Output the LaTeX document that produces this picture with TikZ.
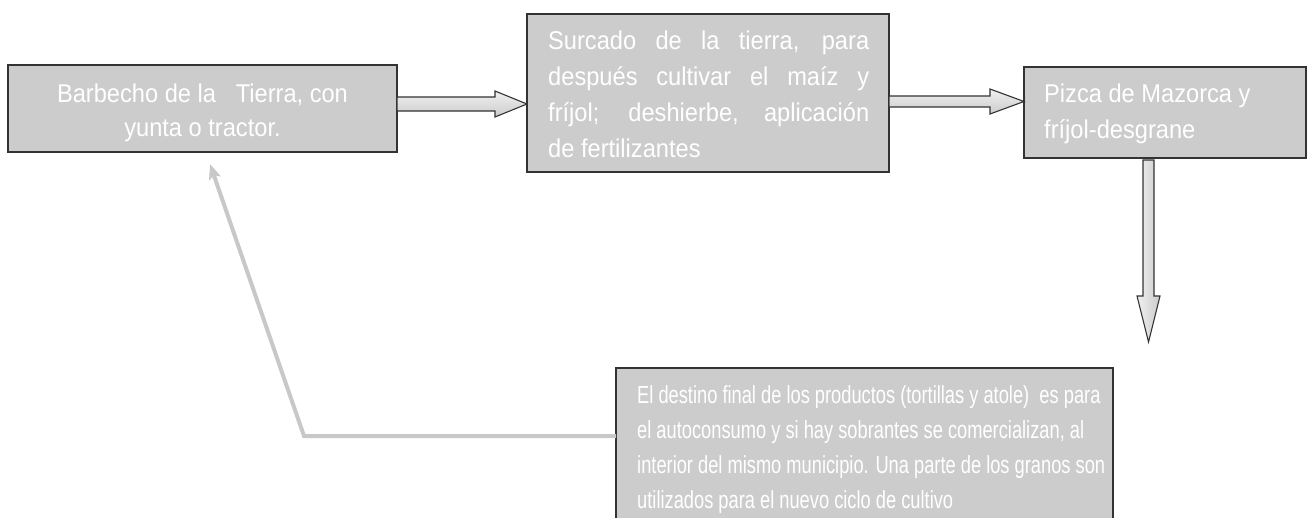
\documentclass[tikz,border=0pt]{standalone}
\usepackage{fontspec}
\setmainfont{Liberation Sans}
\newfontfamily\boxfont[FakeStretch=0.92]{Liberation Sans}
\newfontfamily\narrowfont[FakeStretch=0.74]{Liberation Sans}
\usetikzlibrary{arrows.meta}
\definecolor{boxfill}{HTML}{CCCCCC}
\definecolor{boxline}{HTML}{333333}
\definecolor{fbline}{HTML}{C8C8C8}
\begin{document}
\begin{tikzpicture}[x=1pt,y=-1pt,
  box/.style={draw=boxline, line width=1.4pt, fill=boxfill, inner sep=0pt, outer sep=0pt, anchor=north west},
  txt/.style={text=white, inner sep=0pt, font=\boxfont\fontsize{25.7}{30}\selectfont},
  ntxt/.style={text=white, inner sep=0pt, font=\narrowfont\fontsize{24.7}{30}\selectfont},
  harrow/.style={draw=boxline, line width=1.1pt, top color=black!6, bottom color=black!20, line join=miter},
  varrow/.style={draw=boxline, line width=1.1pt, left color=black!6, right color=black!20, line join=miter},
  fb/.style={draw=fbline, line width=4pt, -{Stealth[length=15pt,width=12pt,inset=3pt]}}
]
\useasboundingbox (0,0) rectangle (1308,517);
\clip (0,0) rectangle (1308,517);

% boxes
\node[box, minimum width=389pt, minimum height=87pt] (b1) at (8,65) {};
\node[box, minimum width=362pt, minimum height=158pt] (b2) at (527,14) {};
\node[box, minimum width=282pt, minimum height=91pt] (b3) at (1024,67) {};
\node[box, minimum width=497pt, minimum height=170pt] (b4) at (616,368) {};

% texts box 1
\node[txt, anchor=base] (t1a) at (202.5,102) {Barbecho de la~~ Tierra, con};
\node[txt, anchor=base] (t1b) at (202.5,136) {yunta o tractor.};

% texts box 2
\node[txt, anchor=base west] (t2a) at (548,49) {\makebox[321pt][s]{Surcado de la tierra, para}};
\node[txt, anchor=base west] (t2b) at (548,85) {\makebox[321pt][s]{después cultivar el maíz y}};
\node[txt, anchor=base west] (t2c) at (548,121) {\makebox[321pt][s]{fríjol; deshierbe, aplicación}};
\node[txt, anchor=base west] (t2d) at (548,157) {de fertilizantes};

% texts box 3
\node[txt, anchor=base west] (t3a) at (1044,102) {Pizca de Mazorca y};
\node[txt, anchor=base west] (t3b) at (1044,138) {fríjol-desgrane};

% texts box 4
\node[ntxt, anchor=base west] (t4a) at (637,403) {El destino final de los productos (tortillas y atole)~ es para};
\node[ntxt, anchor=base west] (t4b) at (637,438) {el autoconsumo y si hay sobrantes se comercializan, al};
\node[ntxt, anchor=base west] (t4c) at (637,473) {interior del mismo municipio. Una parte de los granos son};
\node[ntxt, anchor=base west] (t4d) at (637,508) {utilizados para el nuevo ciclo de cultivo};

% block arrow 1
\draw[harrow] (b1.east |- 0,97) -- (495,97) -- (495,91) -- (b2.west |- 0,104)
  -- (495,117) -- (495,111) -- (b1.east |- 0,111) -- cycle;
% block arrow 2
\draw[harrow] (b2.east |- 0,96) -- (990,96) -- (990,89) -- (b3.west |- 0,101.5)
  -- (990,114) -- (990,107) -- (b2.east |- 0,107) -- cycle;
% block arrow 3
\coordinate (a3tip) at (1148.5,342);
\draw[varrow] ([yshift=-2pt]b3.south -| 1143,0) -- (1143,296) -- (1137,296) -- (a3tip)
  -- (1160,296) -- (1154,296) -- ([yshift=-2pt]b3.south -| 1154,0) -- cycle;

% feedback line
\coordinate (fbcorner) at (304,436);
\coordinate (fbend) at (210,164);
\draw[fb] (b4.west |- 0,436) -- (fbcorner) -- (fbend);
\end{tikzpicture}
\end{document}
